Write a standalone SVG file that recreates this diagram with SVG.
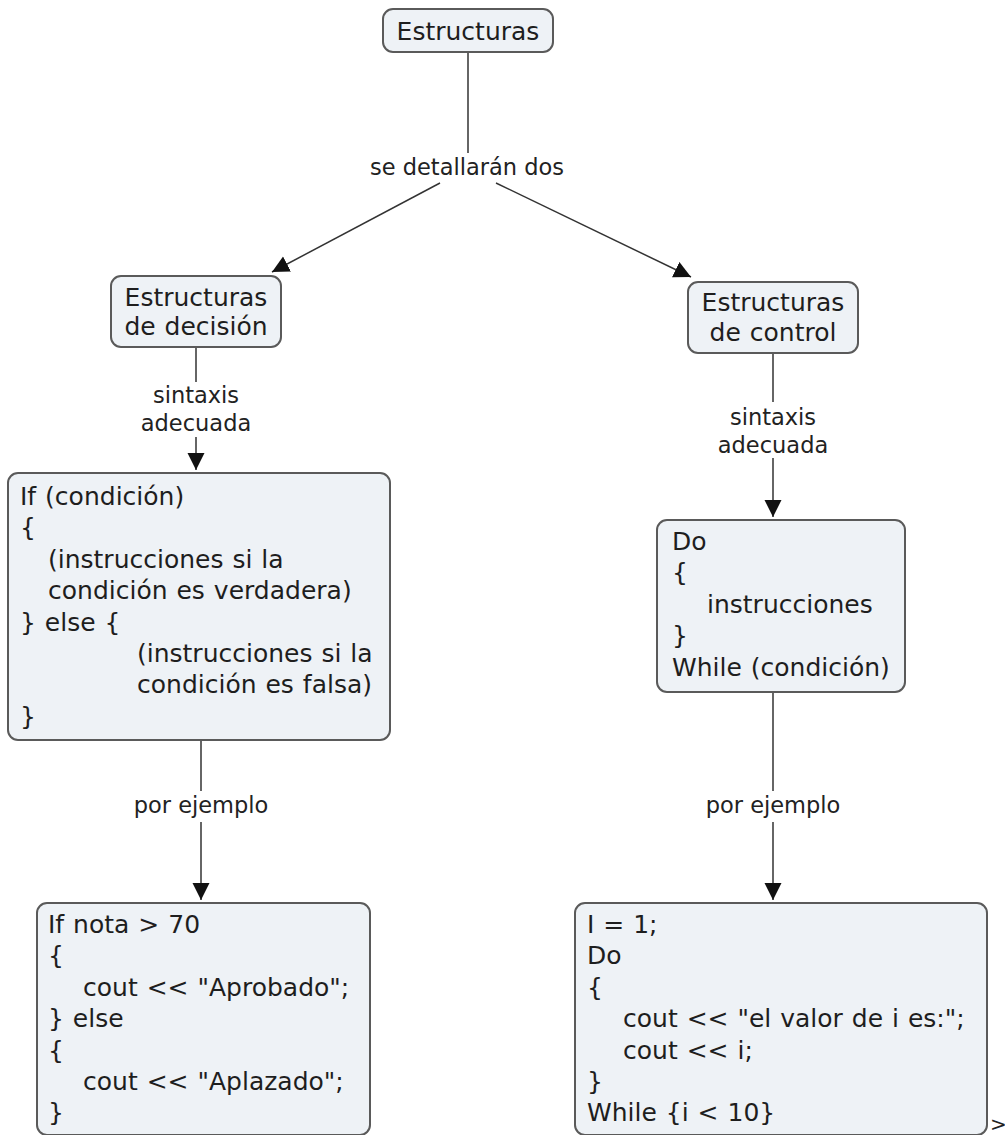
<svg xmlns="http://www.w3.org/2000/svg" width="1005" height="1135" viewBox="0 0 1005 1135">
  <style>
    .node rect { fill: #eef2f6; stroke: #5a5a5a; stroke-width: 2; }
    .node text { font-family: "DejaVu Sans", Verdana, sans-serif; font-size: 25px; fill: #1e1e1e; word-spacing: 1px; }
    .c { text-anchor: middle; }
    .link { stroke: #333; stroke-width: 1.5; fill: none; }
    .lbl { font-family: "DejaVu Sans", Verdana, sans-serif; font-size: 22.5px; fill: #222; text-anchor: middle; }
  </style>
  <defs>
    <marker id="arrow" markerUnits="userSpaceOnUse" markerWidth="18" markerHeight="18" refX="17" refY="8.5" orient="auto">
      <path d="M0,0 L17,8.5 L0,17 z" fill="#111"/>
    </marker>
  </defs>
  <rect width="1005" height="1135" fill="#ffffff"/>

  <!-- connectors -->
  <g id="connectors">
    <line class="link" x1="468" y1="52" x2="468" y2="153"/>
    <text class="lbl" x="467" y="175">se detallarán dos</text>
    <line class="link" x1="440" y1="183" x2="272" y2="272" marker-end="url(#arrow)"/>
    <line class="link" x1="496" y1="183" x2="691" y2="277" marker-end="url(#arrow)"/>

    <line class="link" x1="196" y1="347" x2="196" y2="382"/>
    <text class="lbl" x="196" y="403">sintaxis</text>
    <text class="lbl" x="196" y="431">adecuada</text>
    <line class="link" x1="196" y1="437" x2="196" y2="470" marker-end="url(#arrow)"/>

    <line class="link" x1="773" y1="353" x2="773" y2="402"/>
    <text class="lbl" x="773" y="425">sintaxis</text>
    <text class="lbl" x="773" y="453">adecuada</text>
    <line class="link" x1="773" y1="458" x2="773" y2="517" marker-end="url(#arrow)"/>

    <line class="link" x1="201" y1="740" x2="201" y2="791"/>
    <text class="lbl" x="201" y="813">por ejemplo</text>
    <line class="link" x1="201" y1="822" x2="201" y2="900" marker-end="url(#arrow)"/>

    <line class="link" x1="773" y1="692" x2="773" y2="791"/>
    <text class="lbl" x="773" y="813">por ejemplo</text>
    <line class="link" x1="773" y1="822" x2="773" y2="900" marker-end="url(#arrow)"/>
  </g>

  <!-- nodes -->
  <g id="estructuras" class="node">
    <rect x="383" y="9" width="170" height="43" rx="10"/>
    <text class="c" x="468" y="40">Estructuras</text>
  </g>

  <g id="decision" class="node">
    <rect x="111" y="276" width="170" height="71" rx="10"/>
    <text class="c" x="196" y="306">Estructuras</text>
    <text class="c" x="196" y="335">de decisión</text>
  </g>

  <g id="control" class="node">
    <rect x="688" y="282" width="170" height="71" rx="10"/>
    <text class="c" x="773" y="311">Estructuras</text>
    <text class="c" x="773" y="341">de control</text>
  </g>

  <g id="sintaxis-if" class="node">
    <rect x="8" y="473" width="382" height="267" rx="10"/>
    <text x="20" y="505">If (condición)</text>
    <text x="20" y="536">{</text>
    <text x="48" y="568">(instrucciones si la</text>
    <text x="48" y="599">condición es verdadera)</text>
    <text x="20" y="631">} else {</text>
    <text x="137" y="662">(instrucciones si la</text>
    <text x="137" y="693">condición es falsa)</text>
    <text x="20" y="725">}</text>
  </g>

  <g id="sintaxis-do" class="node">
    <rect x="657" y="520" width="248" height="172" rx="10"/>
    <text x="672" y="550">Do</text>
    <text x="672" y="581">{</text>
    <text x="707" y="613">instrucciones</text>
    <text x="672" y="644">}</text>
    <text x="672" y="676">While (condición)</text>
  </g>

  <g id="ejemplo-if" class="node">
    <rect x="37" y="903" width="333" height="232" rx="10"/>
    <text x="48" y="933">If nota &gt; 70</text>
    <text x="48" y="964">{</text>
    <text x="83" y="996">cout &lt;&lt; "Aprobado";</text>
    <text x="48" y="1027">} else</text>
    <text x="48" y="1059">{</text>
    <text x="83" y="1090">cout &lt;&lt; "Aplazado";</text>
    <text x="48" y="1121">}</text>
  </g>

  <g id="ejemplo-do" class="node">
    <rect x="575" y="903" width="412" height="232" rx="10"/>
    <text x="587" y="933">I = 1;</text>
    <text x="587" y="964">Do</text>
    <text x="587" y="996">{</text>
    <text x="623" y="1027">cout &lt;&lt; "el valor de i es:";</text>
    <text x="623" y="1059">cout &lt;&lt; i;</text>
    <text x="587" y="1090">}</text>
    <text x="587" y="1121">While {i &lt; 10}</text>
  </g>

  <text x="990" y="1131" font-family="DejaVu Sans, Verdana, sans-serif" font-size="20" fill="#222">&gt;</text>
</svg>
